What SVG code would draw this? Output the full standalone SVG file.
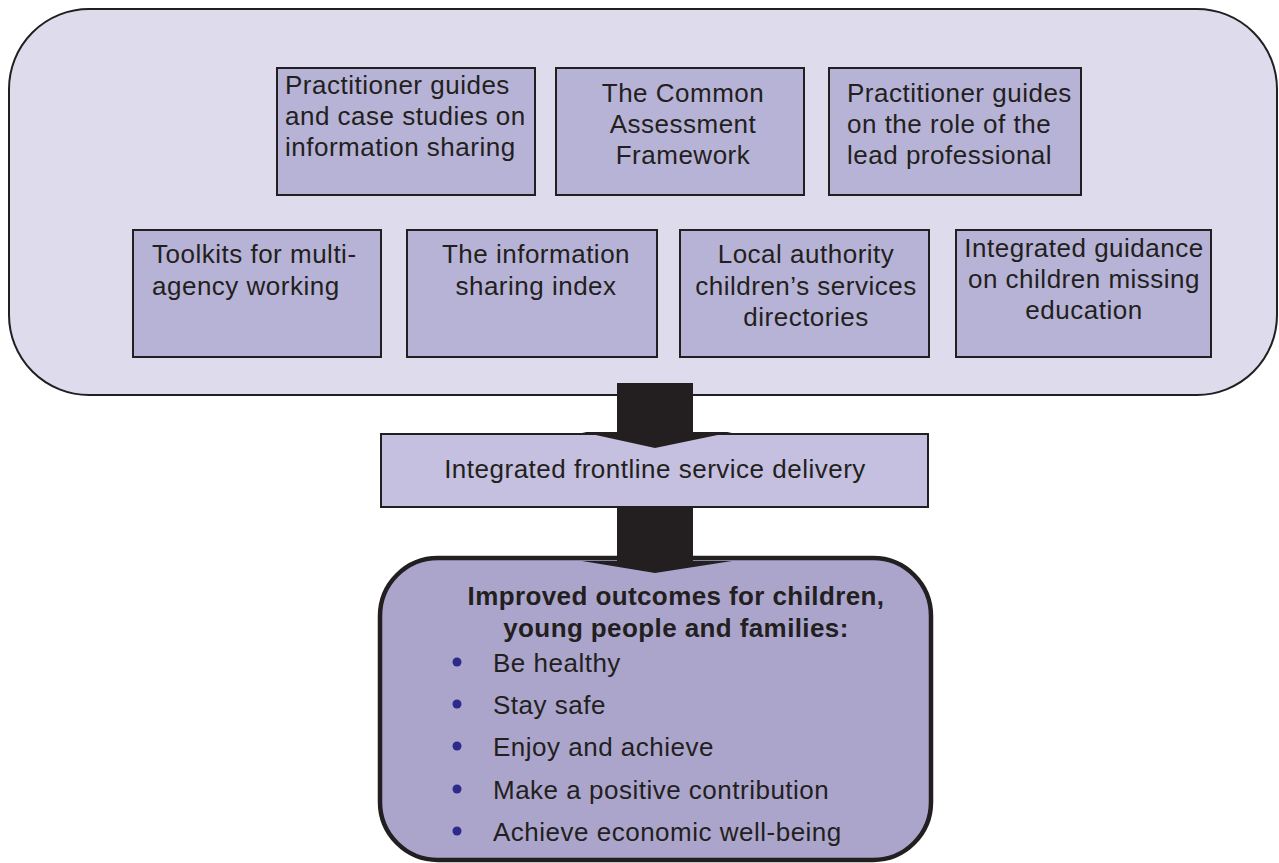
<svg xmlns="http://www.w3.org/2000/svg" width="1279" height="863" viewBox="0 0 1279 863">
<style>
.box{fill:#b7b3d6;stroke:#231f20;stroke-width:2}
.t{font-family:"Liberation Sans",Arial,sans-serif;font-size:26px;letter-spacing:0.5px;fill:#231f20}
.c{text-anchor:middle}
.b{font-weight:bold;letter-spacing:0.4px}
.arrow{fill:#231f20}
.dot{fill:#2e2a8a}
</style>
<rect width="1279" height="863" fill="#ffffff"/>
<g id="container">
<rect x="9" y="9" width="1268" height="386" rx="80" ry="80" fill="#dedbec" stroke="#231f20" stroke-width="2"/>
</g>
<g id="n1"><rect class="box" x="277" y="68" width="258" height="127"/>
<text class="t" x="285" y="94">Practitioner guides</text><text class="t" x="285" y="125">and case studies on</text><text class="t" x="285" y="156">information sharing</text></g>
<g id="n2"><rect class="box" x="556" y="68" width="248" height="127"/>
<text class="t c" x="683" y="102">The Common</text><text class="t c" x="683" y="133">Assessment</text><text class="t c" x="683" y="164">Framework</text></g>
<g id="n3"><rect class="box" x="829" y="68" width="252" height="127"/>
<text class="t" x="847" y="102">Practitioner guides</text><text class="t" x="847" y="133">on the role of the</text><text class="t" x="847" y="164">lead professional</text></g>
<g id="n4"><rect class="box" x="133" y="230" width="248" height="127"/>
<text class="t" x="152" y="263">Toolkits for multi-</text><text class="t" x="152" y="295">agency working</text></g>
<g id="n5"><rect class="box" x="407" y="230" width="250" height="127"/>
<text class="t c" x="536" y="263">The information</text><text class="t c" x="536" y="295">sharing index</text></g>
<g id="n6"><rect class="box" x="680" y="230" width="249" height="127"/>
<text class="t c" x="806" y="263">Local authority</text><text class="t c" x="806" y="295">children’s services</text><text class="t c" x="806" y="326">directories</text></g>
<g id="n7"><rect class="box" x="956" y="230" width="255" height="127"/>
<text class="t c" x="1084" y="257">Integrated guidance</text><text class="t c" x="1084" y="288">on children missing</text><text class="t c" x="1084" y="319">education</text></g>
<g id="frontline"><rect x="381" y="434" width="547" height="73" fill="#c5c0df" stroke="#231f20" stroke-width="2"/>
<text class="t c" x="655" y="478">Integrated frontline service delivery</text></g>
<g id="outcomes"><rect x="380" y="558" width="551" height="302" rx="58" ry="58" fill="#aba5cc" stroke="#231f20" stroke-width="4.5"/>
<text class="t c b" x="676" y="605">Improved outcomes for children,</text>
<text class="t c b" x="676" y="637">young people and families:</text>
<circle class="dot" cx="457" cy="662" r="4.5"/><text class="t" x="493" y="672">Be healthy</text>
<circle class="dot" cx="457" cy="704" r="4.5"/><text class="t" x="493" y="714">Stay safe</text>
<circle class="dot" cx="457" cy="746" r="4.5"/><text class="t" x="493" y="756">Enjoy and achieve</text>
<circle class="dot" cx="457" cy="789" r="4.5"/><text class="t" x="493" y="799">Make a positive contribution</text>
<circle class="dot" cx="457" cy="831" r="4.5"/><text class="t" x="493" y="841">Achieve economic well-being</text>
</g>
<g id="connectors">
<path class="arrow" d="M617,383 H693 V432 H732 L655,448 L582,432 H617 Z"/>
<path class="arrow" d="M617,507 H693 V561 H732 L655,573 L582,561 H617 Z"/>
</g>
</svg>
